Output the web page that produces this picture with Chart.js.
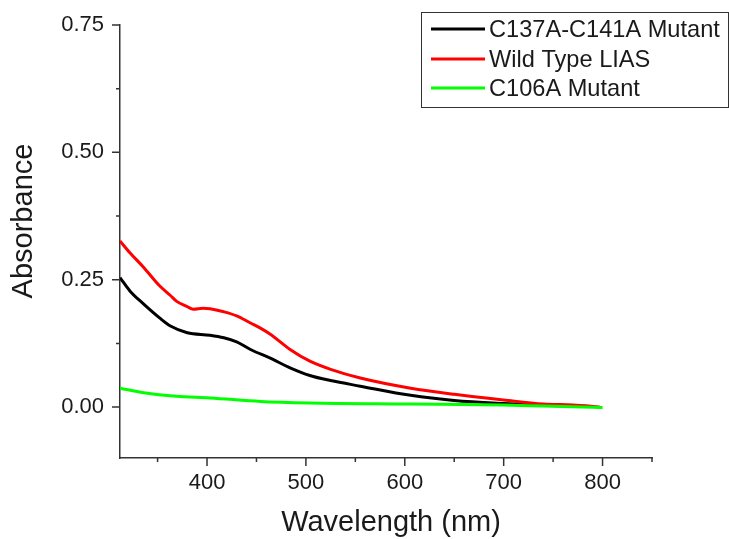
<!DOCTYPE html>
<html>
<head>
<meta charset="utf-8">
<script src="https://cdn.jsdelivr.net/npm/chart.js@4.4.1/dist/chart.umd.min.js"></script>
<style>
    html, body { margin: 0; padding: 0; background: #fff; }
    #wrap { width: 729px; height: 539px; }
</style>
</head>
<body>
<div id="wrap"><canvas id="spectra" width="729" height="539"></canvas></div>
<script>
// Absorbance spectra, values
const seriesNames = ['C137A-C141A Mutant', 'Wild Type LIAS', 'C106A Mutant'];
const seriesColors = ['#000000', '#ff0000', '#00ff00'];

const mutantWl  = [312, 322, 336, 352, 363, 380, 403, 417, 430, 444, 464, 484, 504, 525, 555, 606, 650, 700, 750, 790];
const mutantAbs = [0.254, 0.228, 0.202, 0.175, 0.159, 0.146, 0.141, 0.136, 0.128, 0.113, 0.096, 0.077, 0.062, 0.052, 0.041, 0.023, 0.013, 0.007, 0.003, 0.001];

const wildWl  = [312, 322, 336, 352, 363, 369, 380, 386, 396, 403, 417, 430, 444, 454, 464, 484, 504, 525, 555, 606, 650, 700, 740, 770, 797];
const wildAbs = [0.326, 0.303, 0.274, 0.238, 0.219, 0.208, 0.197, 0.192, 0.194, 0.193, 0.187, 0.179, 0.165, 0.155, 0.143, 0.113, 0.090, 0.074, 0.057, 0.037, 0.025, 0.014, 0.006, 0.004, 0.000];

const c106Wl  = [312, 336, 369, 403, 454, 504, 606, 700, 740, 800];
const c106Abs = [0.037, 0.028, 0.021, 0.018, 0.011, 0.008, 0.006, 0.004, 0.002, -0.001];

// axes
const xMajorTicks = [400, 500, 600, 700, 800];
const xMinorTicks = [350, 450, 550, 650, 750, 850];
const yMajorTicks = [0, 0.25, 0.5, 0.75];
const yMinorTicks = [0.125, 0.375, 0.625];
const xTitle = 'Wavelength (nm)';
const yTitle = 'Absorbance';

const FONT = '"Liberation Sans", Arial, sans-serif';
const AXIS_COLOR = '#333333';
const TEXT_COLOR = '#1a1a1a';

function toPoints(xs, ys) {
    return xs.map((x, i) => ({ x: x, y: ys[i] }));
}

// tick marks (major long, minor short) and the two axis titles
const axisDecor = {
    id: 'axisDecor',
    afterDraw(chart) {
        const ctx = chart.ctx;
        const area = chart.chartArea;
        const xs = chart.scales.x, ys = chart.scales.y;
        ctx.save();
        ctx.strokeStyle = AXIS_COLOR;
        ctx.lineWidth = 1.5;
        ctx.beginPath();
        xMajorTicks.forEach(v => {
            const px = xs.getPixelForValue(v);
            ctx.moveTo(px, area.bottom); ctx.lineTo(px, area.bottom + 8);
        });
        xMinorTicks.forEach(v => {
            const px = xs.getPixelForValue(v);
            ctx.moveTo(px, area.bottom); ctx.lineTo(px, area.bottom + 4);
        });
        yMajorTicks.forEach(v => {
            const py = ys.getPixelForValue(v);
            ctx.moveTo(area.left, py); ctx.lineTo(area.left - 8, py);
        });
        yMinorTicks.forEach(v => {
            const py = ys.getPixelForValue(v);
            ctx.moveTo(area.left, py); ctx.lineTo(area.left - 4, py);
        });
        ctx.stroke();

        ctx.fillStyle = TEXT_COLOR;
        ctx.font = '29px ' + FONT;
        ctx.textAlign = 'center';
        ctx.textBaseline = 'alphabetic';
        ctx.fillText(xTitle, 391, 531);

        // y title sits a bit above the middle, like in the original
        ctx.textBaseline = 'middle';
        ctx.translate(24, 221);
        ctx.rotate(-Math.PI / 2);
        ctx.fillText(yTitle, 0, 0);
        ctx.restore();
    }
};

// boxed legend in the top right corner
const boxLegend = {
    id: 'boxLegend',
    afterDraw(chart) {
        const ctx = chart.ctx;
        const left = 421, top = 12, right = 728, bottom = 107;
        const rows = [29, 59, 88];
        ctx.save();
        ctx.fillStyle = '#fff';
        ctx.fillRect(left, top, right - left, bottom - top);
        ctx.strokeStyle = AXIS_COLOR;
        ctx.lineWidth = 1;
        ctx.strokeRect(left + 0.5, top + 0.5, right - left, bottom - top);
        ctx.font = '23.6px ' + FONT;
        ctx.textBaseline = 'middle';
        ctx.textAlign = 'left';
        seriesNames.forEach((name, i) => {
            ctx.strokeStyle = seriesColors[i];
            ctx.lineWidth = 3;
            ctx.beginPath();
            ctx.moveTo(431, rows[i]);
            ctx.lineTo(485, rows[i]);
            ctx.stroke();
            ctx.fillStyle = TEXT_COLOR;
            ctx.fillText(name, 489, rows[i] + 1);
        });
        ctx.restore();
    }
};

const datasets = [
    { label: seriesNames[0], data: toPoints(mutantWl, mutantAbs), borderColor: seriesColors[0], order: 2 },
    { label: seriesNames[1], data: toPoints(wildWl, wildAbs), borderColor: seriesColors[1], order: 1 },
    { label: seriesNames[2], data: toPoints(c106Wl, c106Abs), borderColor: seriesColors[2], order: 0 }
].map(d => Object.assign(d, {
    borderWidth: 3,
    pointRadius: 0,
    fill: false,
    cubicInterpolationMode: 'monotone'
}));

new Chart(document.getElementById('spectra'), {
    type: 'line',
    data: { datasets: datasets },
    options: {
        responsive: false,
        devicePixelRatio: 1,
        animation: false,
        layout: { padding: { left: 0, top: 25, right: 77, bottom: 0 } },
        plugins: {
            legend: { display: false },
            tooltip: { enabled: false }
        },
        scales: {
            x: {
                type: 'linear',
                min: 312,
                max: 850,
                afterFit: s => { s.height = 81; s.paddingLeft = 0; s.paddingRight = 0; },
                afterBuildTicks: s => { s.ticks = xMajorTicks.map(v => ({ value: v })); },
                border: { display: true, color: AXIS_COLOR, width: 1.5 },
                grid: { display: true, drawOnChartArea: false, drawTicks: false },
                ticks: {
                    padding: 12,
                    color: TEXT_COLOR,
                    font: { family: FONT, size: 22 },
                    maxRotation: 0,
                    callback: v => String(v)
                }
            },
            y: {
                min: -0.1,
                max: 0.75,
                // keep the top label from pushing the plot down
                afterFit: s => { s.width = 120; s.paddingTop = 0; s.paddingBottom = 0; },
                afterBuildTicks: s => { s.ticks = yMajorTicks.map(v => ({ value: v })); },
                border: { display: true, color: AXIS_COLOR, width: 1.5 },
                grid: { display: true, drawOnChartArea: false, drawTicks: false },
                ticks: {
                    padding: 16,
                    color: TEXT_COLOR,
                    font: { family: FONT, size: 22 },
                    callback: v => v.toFixed(2)
                }
            }
        }
    },
    plugins: [axisDecor, boxLegend]
});
</script>
</body>
</html>
